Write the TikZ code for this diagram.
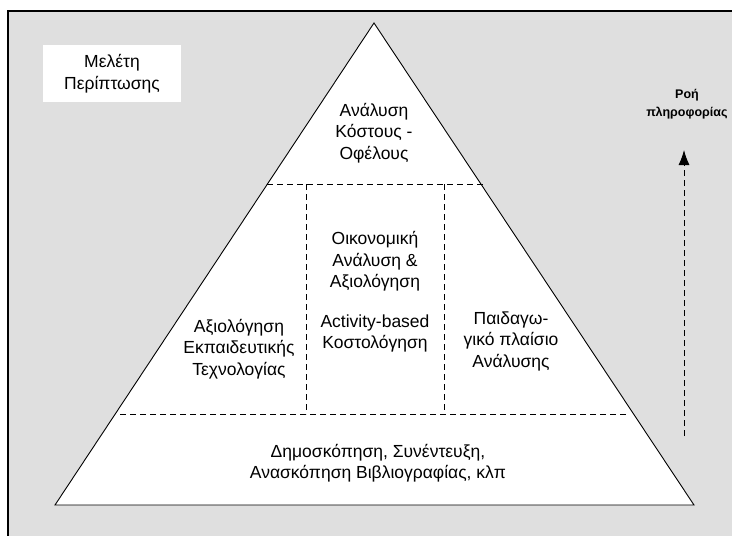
\documentclass[tikz,border=0pt]{standalone}
\usepackage{fontspec}
\setmainfont{Liberation Sans}
\usetikzlibrary{arrows.meta}
\tikzset{
	label/.style={align=center, font=\fontsize{17.5}{21.5}\selectfont, inner sep=0pt},
	sep/.style={dash pattern=on 6pt off 4pt, line width=.9pt},
}
\begin{document}
\begin{tikzpicture}[x=1pt,y=-1pt]
			\useasboundingbox (0,0) rectangle (732,536);
			\fill[gray!25] (8,11) rectangle (740,545);
			\draw[line width=1.5pt] (8,545) -- (8,11) -- (740,11);
			%
			\coordinate (apex) at (374,23);
			\coordinate (bl) at (55,505);
			\coordinate (br) at (694,505);
			\filldraw[fill=white, line width=.9pt] (apex) -- (br) -- (bl) -- cycle;
			\begin{scope}
				\coordinate (t1) at (267,184);
				\coordinate (t2) at (484,184);
				\coordinate (m1) at (306,184);
				\coordinate (m2) at (444,184);
				\coordinate (b1) at (120,414);
				\coordinate (b2) at (628,414);
				\draw[sep] (t1) -- (t2);
				\draw[sep] (b1) -- (b2);
				\draw[sep] (m1) -- (m1 |- b1);
				\draw[sep] (m2) -- (m2 |- b1);
			\end{scope}
			%
			\node[fill=white, minimum width=138pt, minimum height=57pt, inner sep=0pt] (case) at (112,73.5) {};
			\node[label] (casetxt) at (case) {Μελέτη\\Περίπτωσης};
			\node[label] (top) at (374,133) {Ανάλυση\\Κόστους -\\Οφέλους};
			\node[label] (mid) at (375,292) {Οικονομική\\Ανάλυση \&\\Αξιολόγηση\\[18pt]Activity-based\\Κοστολόγηση};
			\node[label] (left) at (239,349) {Αξιολόγηση\\Εκπαιδευτικής\\Τεχνολογίας};
			\node[label] (right) at (511,341) {Παιδαγω-\\γικό πλαίσιο\\Ανάλυσης};
			\node[label] (base) at (378,463) {Δημοσκόπηση, Συνέντευξη,\\Ανασκόπηση Βιβλιογραφίας, κλπ};
			%
			\node[align=center, font=\fontsize{12.5}{18}\selectfont\bfseries, inner sep=0pt] (flow) at (687,104) {Ροή\\πληροφορίας};
			\coordinate (fs) at (684,436);
			\coordinate (fe) at (684,150);
			\draw[sep, -{Latex[length=15pt,width=11pt]}] (fs) -- (fe);
		\end{tikzpicture}
\end{document}
